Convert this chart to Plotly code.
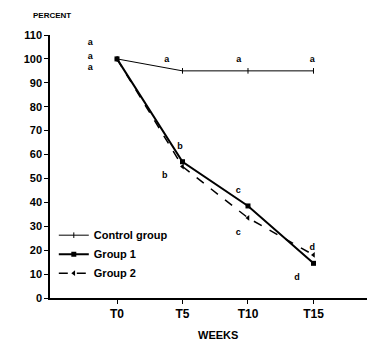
import plotly.graph_objects as go

weeks = ["T0", "T5", "T10", "T15"]
x_pos = [0, 1, 2, 3]
control = [100, 95, 95, 95]
group1 = [100, 57, 38.5, 14.5]
group2 = [100, 55, 33.5, 18]

# significance letters: (x, y, text)
letter_x = [-0.41, -0.41, -0.41, 0.76, 1.86, 2.98, 0.96, 0.73, 1.85, 1.85, 2.98, 2.75]
letter_y = [106.7, 100.8, 96.2, 99.6, 99.6, 99.6, 63.2, 51, 44.8, 27.2, 20.9, 8.4]
letter_t = ["a", "a", "a", "a", "a", "a", "b", "b", "c", "c", "d", "d"]

FONT = "Liberation Sans, Arial, sans-serif"

fig = go.Figure()
fig.add_trace(go.Scatter(x=x_pos, y=control, name="Control group", mode="lines+markers",
                         line=dict(color="black", width=1),
                         marker=dict(symbol="line-ns", size=4, line=dict(width=1, color="black"))))
fig.add_trace(go.Scatter(x=x_pos, y=group1, name="Group 1", mode="lines+markers",
                         line=dict(color="black", width=2),
                         marker=dict(symbol="square", size=5, color="black")))
fig.add_trace(go.Scatter(x=x_pos, y=group2, name="Group 2", mode="lines+markers",
                         line=dict(color="black", width=1.5, dash="dash"),
                         marker=dict(symbol="triangle-left", size=5, color="black")))
fig.add_trace(go.Scatter(x=letter_x, y=letter_y, text=letter_t, mode="text", showlegend=False,
                         textfont=dict(family=FONT, size=9, color="black", weight="bold")))

fig.update_layout(
    width=367, height=342,
    margin=dict(l=50, r=0, t=35, b=44),
    paper_bgcolor="white", plot_bgcolor="white",
    font=dict(family=FONT, color="black"),
    showlegend=True,
    legend=dict(x=0.012, y=0.294, xanchor="left", yanchor="top",
                bgcolor="rgba(0,0,0,0)", font=dict(size=11, family=FONT, weight="bold"),
                tracegroupgap=0, itemwidth=30),
    xaxis=dict(range=[-1.023, 3.817], tickvals=x_pos, ticktext=weeks,
               showgrid=False, zeroline=False, showline=True, linecolor="black", linewidth=1.5,
               ticks="outside", ticklen=4, tickcolor="black",
               tickfont=dict(size=12, family=FONT, weight="bold")),
    yaxis=dict(range=[0, 110], tickvals=list(range(0, 111, 10)),
               showgrid=False, zeroline=False, showline=True, linecolor="black", linewidth=1.5,
               ticks="outside", ticklen=4, tickcolor="black",
               tickfont=dict(size=11, family=FONT, weight="bold")),
)
fig.add_annotation(text="<b>PERCENT</b>", xref="paper", yref="paper", x=-0.06, y=1.075,
                   xanchor="left", yanchor="middle", showarrow=False, font=dict(size=8))
fig.add_annotation(text="<b>WEEKS</b>", xref="paper", yref="paper", x=0.53, y=-0.141,
                   xanchor="center", yanchor="middle", showarrow=False, font=dict(size=11))
fig.write_html("out.html", config={"displayModeBar": False},
               post_script="document.body.style.margin='0';document.body.style.overflow='hidden';")
